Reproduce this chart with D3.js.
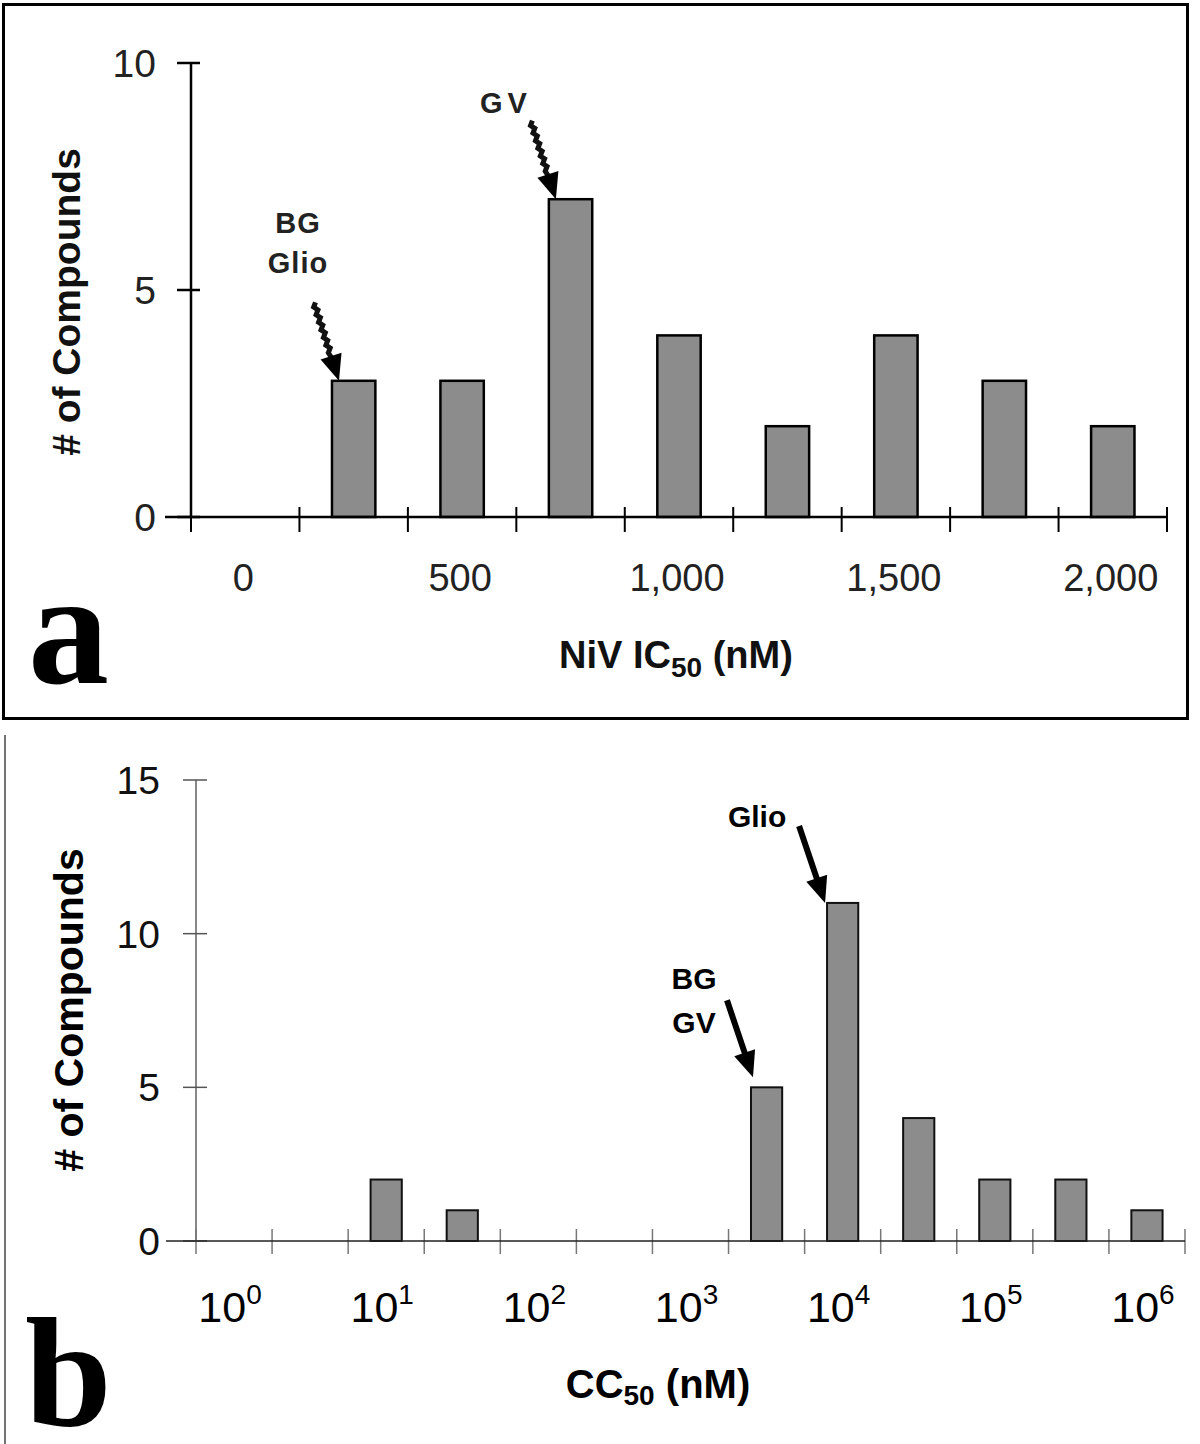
<!DOCTYPE html>
<html><head><meta charset="utf-8">
<script src="https://cdn.jsdelivr.net/npm/d3@7"></script>
<style>body{margin:0;background:#fff} svg{display:block}</style>
</head><body><svg id="c" width="1200" height="1444"></svg>
<script>
// ---- Panel a data: NiV IC50 histogram ----
const icCategories = [0, 250, 500, 750, 1000, 1250, 1500, 1750, 2000];
const icCounts     = [0, 3, 3, 7, 4, 2, 4, 3, 2];
const icTickLabels = ["0", "", "500", "", "1,000", "", "1,500", "", "2,000"];
const icYTicks     = [0, 5, 10];
const icAnnotations = [
  {cat: 250, lines: ["BG", "Glio"]},
  {cat: 750, lines: ["GV"]}
];

// ---- Panel b data: CC50 histogram (log10 bins) ----
const ccExponents = [0, 0.5, 1, 1.5, 2, 2.5, 3, 3.5, 4, 4.5, 5, 5.5, 6];
const ccCounts    = [0, 0, 2, 1, 0, 0, 0, 5, 11, 4, 2, 2, 1];
const ccTickExps  = [0, 1, 2, 3, 4, 5, 6];
const ccYTicks    = [0, 5, 10, 15];
const ccAnnotations = [
  {cat: 3.5, lines: ["BG", "GV"]},
  {cat: 4, lines: ["Glio"]}
];

const svg = d3.select("#c");
const SANS = "'Liberation Sans', Arial, sans-serif";
const SERIF = "'Liberation Serif', 'Times New Roman', serif";
const BAR_FILL = "#8c8c8c";

function arrow(g, x1, y1, x2, y2, jagged) {
  const dx = x2 - x1, dy = y2 - y1, L = Math.hypot(dx, dy);
  const ux = dx / L, uy = dy / L, px = -uy, py = ux;
  const headLen = 26, headW = 11;
  const bx = x2 - ux * headLen, by = y2 - uy * headLen;
  if (jagged) {
    const pts = [];
    const n = Math.floor((L - headLen) / 4);
    for (let i = 0; i <= n; i++) {
      const t = i * 4, off = (i % 2 ? 1.6 : -1.6);
      pts.push([x1 + ux * t + px * off, y1 + uy * t + py * off]);
    }
    pts.push([bx + ux * 2, by + uy * 2]);
    g.append("path").attr("d", d3.line()(pts)).attr("fill", "none")
      .attr("stroke", "#111").attr("stroke-width", 5);
  } else {
    g.append("line").attr("x1", x1).attr("y1", y1).attr("x2", bx + ux * 2).attr("y2", by + uy * 2)
      .attr("stroke", "#000").attr("stroke-width", 6);
  }
  g.append("path")
    .attr("d", `M${x2},${y2}L${bx + px * headW},${by + py * headW}L${bx - px * headW},${by - py * headW}Z`)
    .attr("fill", "#000");
}

// ================= Panel a =================
{
  const g = svg.append("g");
  g.append("rect").attr("x", 3.5).attr("y", 4.5).attr("width", 1184).attr("height", 714)
    .attr("fill", "none").attr("stroke", "#000").attr("stroke-width", 3);

  const x = d3.scaleBand().domain(icCategories).range([191, 1167]).padding(0);
  const y = d3.scaleLinear().domain([0, 10]).range([517, 63]);
  const bw = x.bandwidth();
  const barW = bw * 0.4;

  g.selectAll("rect.bar").data(icCategories.map((c, i) => ({c, v: icCounts[i]})).filter(d => d.v > 0))
    .join("rect").attr("class", "bar")
    .attr("x", d => x(d.c) + (bw - barW) / 2).attr("width", barW)
    .attr("y", d => y(d.v)).attr("height", d => y(0) - y(d.v))
    .attr("fill", BAR_FILL).attr("stroke", "#000").attr("stroke-width", 2.5);

  g.append("line").attr("x1", 191).attr("x2", 191).attr("y1", y(10)).attr("y2", y(0))
    .attr("stroke", "#000").attr("stroke-width", 2.5);
  icYTicks.forEach(t => {
    g.append("line").attr("x1", 177).attr("x2", 200).attr("y1", y(t)).attr("y2", y(t))
      .attr("stroke", "#000").attr("stroke-width", 2.5);
    g.append("text").attr("x", 156).attr("y", y(t)).attr("dy", "0.36em")
      .attr("text-anchor", "end").attr("font-family", SANS).attr("font-size", 39)
      .attr("fill", "#222").text(t);
  });

  g.append("line").attr("x1", 165).attr("x2", 1168).attr("y1", y(0)).attr("y2", y(0))
    .attr("stroke", "#000").attr("stroke-width", 2.5);
  const bounds = icCategories.map(c => x(c)).concat([x(icCategories[icCategories.length - 1]) + bw]);
  bounds.forEach(b => {
    g.append("line").attr("x1", b).attr("x2", b).attr("y1", y(0) - 10).attr("y2", y(0) + 15)
      .attr("stroke", "#000").attr("stroke-width", 2);
  });
  icCategories.forEach((c, i) => {
    if (!icTickLabels[i]) return;
    g.append("text").attr("x", x(c) + bw / 2 - 2).attr("y", 591)
      .attr("text-anchor", "middle").attr("font-family", SANS).attr("font-size", 38)
      .attr("fill", "#222").text(icTickLabels[i]);
  });

  const t = g.append("text").attr("x", 676).attr("y", 668).attr("text-anchor", "middle")
    .attr("font-family", SANS).attr("font-weight", "bold").attr("font-size", 38).attr("fill", "#111");
  t.append("tspan").text("NiV IC");
  t.append("tspan").attr("font-size", 28).attr("dy", 9).text("50");
  t.append("tspan").attr("dy", -9).text(" (nM)");

  g.append("text").attr("transform", "translate(80,302) rotate(-90)").attr("text-anchor", "middle")
    .attr("font-family", SANS).attr("font-weight", "bold").attr("font-size", 39).attr("fill", "#111")
    .text("# of Compounds");

  g.append("text").attr("x", 28).attr("y", 683).attr("font-family", SERIF).attr("font-weight", "bold")
    .attr("font-size", 162).attr("fill", "#000").text("a");

  icAnnotations.forEach(a => {
    const i = icCategories.indexOf(a.cat);
    const tipX = x(a.cat) + (bw - barW) / 2 + 7, tipY = y(icCounts[i]);
    const sx = tipX - 25, sy = tipY - 78;
    arrow(g, sx, sy, tipX, tipY, true);
    const lh = 40;
    a.lines.forEach((ln, k) => {
      g.append("text").attr("x", a.lines.length > 1 ? sx - 16 : sx - 25)
        .attr("y", sy - 8 - (a.lines.length - 1 - k) * lh - (a.lines.length > 1 ? 22 : 0))
        .attr("text-anchor", "middle").attr("font-family", SANS).attr("font-weight", "bold")
        .attr("font-size", 29).attr("letter-spacing", a.lines.length > 1 ? 1 : 5)
        .attr("fill", "#222").text(ln);
    });
  });
}

// ================= Panel b =================
{
  const g = svg.append("g");
  g.append("line").attr("x1", 5).attr("x2", 5).attr("y1", 735).attr("y2", 1444)
    .attr("stroke", "#444").attr("stroke-width", 1.5);

  const x = d3.scaleBand().domain(ccExponents).range([196, 1185]).padding(0);
  const y = d3.scaleLinear().domain([0, 15]).range([1241, 780]);
  const bw = x.bandwidth();
  const barW = bw * 0.41;

  g.append("line").attr("x1", 196).attr("x2", 196).attr("y1", y(15)).attr("y2", y(0))
    .attr("stroke", "#888").attr("stroke-width", 2);
  ccYTicks.forEach(t => {
    g.append("line").attr("x1", 183).attr("x2", 207).attr("y1", y(t)).attr("y2", y(t))
      .attr("stroke", "#555").attr("stroke-width", 1.5);
    g.append("text").attr("x", 160).attr("y", y(t)).attr("dy", "0.36em")
      .attr("text-anchor", "end").attr("font-family", SANS).attr("font-size", 39)
      .attr("fill", "#111").text(t);
  });

  const bounds = ccExponents.map(c => x(c)).concat([x(ccExponents[ccExponents.length - 1]) + bw]);
  bounds.forEach(b => {
    g.append("line").attr("x1", b).attr("x2", b).attr("y1", y(0) - 12).attr("y2", y(0) + 13)
      .attr("stroke", "#777").attr("stroke-width", 1.5);
  });

  g.selectAll("rect.bar").data(ccExponents.map((c, i) => ({c, v: ccCounts[i]})).filter(d => d.v > 0))
    .join("rect").attr("class", "bar")
    .attr("x", d => x(d.c) + (bw - barW) / 2).attr("width", barW)
    .attr("y", d => y(d.v)).attr("height", d => y(0) - y(d.v))
    .attr("fill", BAR_FILL).attr("stroke", "#111").attr("stroke-width", 2);

  g.append("line").attr("x1", 166).attr("x2", 1185).attr("y1", y(0)).attr("y2", y(0))
    .attr("stroke", "#222").attr("stroke-width", 1.5);

  ccTickExps.forEach(e => {
    const cx = x(e) + bw / 2 - 4;
    const t = g.append("text").attr("x", cx).attr("y", 1322).attr("text-anchor", "middle")
      .attr("font-family", SANS).attr("font-size", 43).attr("fill", "#000");
    t.append("tspan").text("10");
    t.append("tspan").attr("font-size", 28).attr("dy", -18).text(e);
  });

  const t = g.append("text").attr("x", 658).attr("y", 1398).attr("text-anchor", "middle")
    .attr("font-family", SANS).attr("font-weight", "bold").attr("font-size", 40).attr("fill", "#000");
  t.append("tspan").text("CC");
  t.append("tspan").attr("font-size", 28).attr("dy", 7).text("50");
  t.append("tspan").attr("dy", -7).text(" (nM)");

  g.append("text").attr("transform", "translate(83,1010) rotate(-90)").attr("text-anchor", "middle")
    .attr("font-family", SANS).attr("font-weight", "bold").attr("font-size", 41).attr("fill", "#000")
    .text("# of Compounds");

  g.append("text").attr("x", 25).attr("y", 1426).attr("font-family", SERIF).attr("font-weight", "bold")
    .attr("font-size", 156).attr("fill", "#000").text("b");

  ccAnnotations.forEach(a => {
    const i = ccExponents.indexOf(a.cat);
    const tipX = x(a.cat) + (bw - barW) / 2 + (a.lines.length > 1 ? 2 : -2);
    const tipY = y(ccCounts[i]) - (a.lines.length > 1 ? 10 : 0);
    const sx = tipX - 26, sy = tipY - 77;
    arrow(g, sx, sy, tipX, tipY, false);
    a.lines.forEach((ln, k) => {
      const yy = a.lines.length > 1 ? sy - 11 + k * 44 : sy + 1;
      g.append("text").attr("x", a.lines.length > 1 ? sx - 33 : sx - 42).attr("y", yy)
        .attr("text-anchor", "middle").attr("font-family", SANS).attr("font-weight", "bold")
        .attr("font-size", 30).attr("fill", "#000").text(ln);
    });
  });
}
</script>
</body></html>
